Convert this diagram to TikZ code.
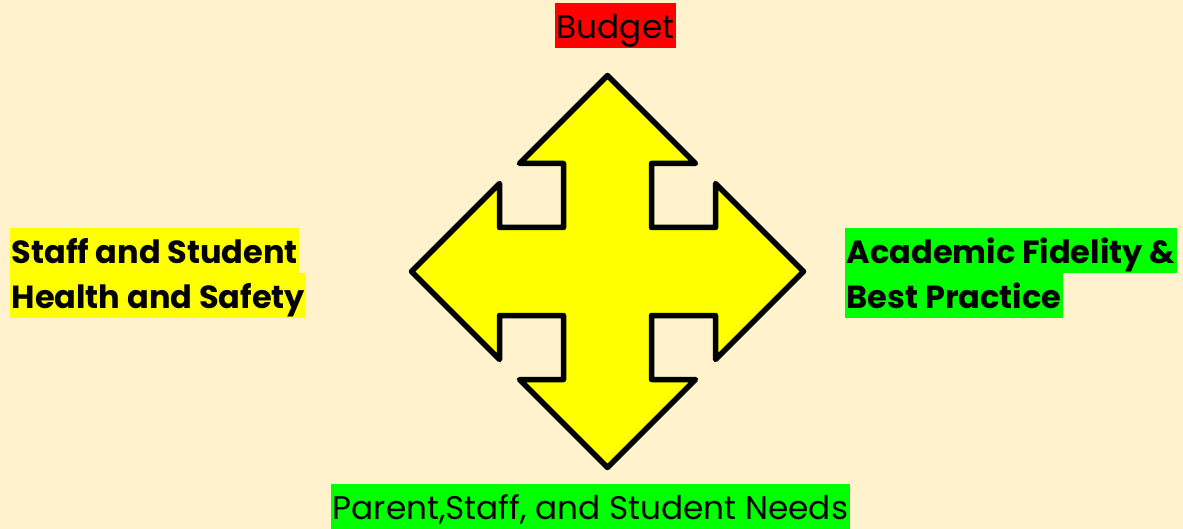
\documentclass[tikz,border=0pt]{standalone}
\usepackage{fontspec}
\setmainfont{Poppins}
\usetikzlibrary{calc, positioning}

\definecolor{paper}{HTML}{FFF2CC}
\definecolor{hlyellow}{HTML}{FFFF00}
\definecolor{hlred}{HTML}{FF0000}
\definecolor{hlgreen}{HTML}{00FF00}

\begin{document}
\begin{tikzpicture}[x=1pt, y=-1pt]
    \tikzstyle{arrowshape} = [draw=black, fill=hlyellow, line width=5.5pt, line join=round]
    \tikzstyle{hl} = [inner xsep=1.5pt, inner ysep=0pt, text height=35pt, text depth=9.5pt, font=\fontsize{32.7}{40}\selectfont]
    \tikzstyle{hlbold} = [hl, font=\fontsize{32}{40}\selectfont\bfseries]

    % Background ----------------------------------------
    \fill[paper] (0, 0) rectangle (1183, 529);
    \useasboundingbox (0, 0) rectangle (1183, 529);

    % Four-way arrow ------------------------------------
    \coordinate (ctr) at (607.5, 271.5);
    \draw[arrowshape] ($(ctr) + (0, -196)$) -- ($(ctr) + (88, -108)$) --
        ($(ctr) + (44, -108)$) -- ($(ctr) + (44, -44)$) --
        ($(ctr) + (108, -44)$) -- ($(ctr) + (108, -88)$) --
        ($(ctr) + (196, 0)$) -- ($(ctr) + (108, 88)$) --
        ($(ctr) + (108, 44)$) -- ($(ctr) + (44, 44)$) --
        ($(ctr) + (44, 108)$) -- ($(ctr) + (88, 108)$) --
        ($(ctr) + (0, 196)$) -- ($(ctr) + (-88, 108)$) --
        ($(ctr) + (-44, 108)$) -- ($(ctr) + (-44, 44)$) --
        ($(ctr) + (-108, 44)$) -- ($(ctr) + (-108, 88)$) --
        ($(ctr) + (-196, 0)$) -- ($(ctr) + (-108, -88)$) --
        ($(ctr) + (-108, -44)$) -- ($(ctr) + (-44, -44)$) --
        ($(ctr) + (-44, -108)$) -- ($(ctr) + (-88, -108)$) -- cycle;

    % Labels --------------------------------------------
    \node (budget) at (615.5, 3) [hl, fill=hlred, anchor=north] {Budget};
    \node (needs) at (590.5, 484) [hl, fill=hlgreen, anchor=north] {Parent,Staff, and Student Needs};

    \node (staff) at (10, 228) [hlbold, fill=hlyellow, anchor=north west] {Staff and Student};
    \node (health) [hlbold, fill=hlyellow, below right=0pt and 0pt of staff.south west] {Health and Safety};

    \node (academic) at (845, 228) [hlbold, fill=hlgreen, anchor=north west] {Academic Fidelity \&};
    \node (practice) [hlbold, fill=hlgreen, below right=0pt and 0pt of academic.south west] {Best Practice};
\end{tikzpicture}
\end{document}
